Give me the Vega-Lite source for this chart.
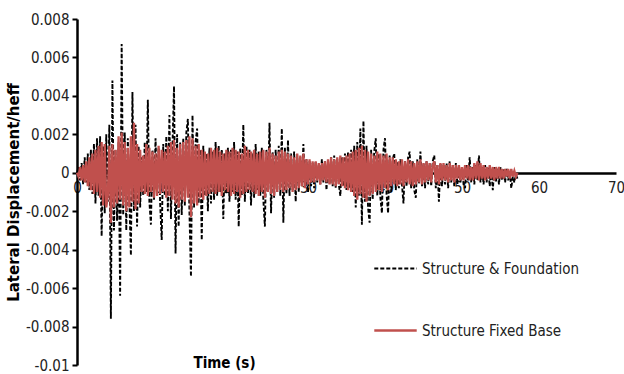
{
"$schema":"https://vega.github.io/schema/vega-lite/v6.json",
"width":539,"height":346,
"autosize":"none",
"padding":{"left":77,"top":19,"right":8,"bottom":9},
"background":"white",
"config":{"view":{"stroke":null},"font":"DejaVu Sans Condensed, Liberation Sans Narrow, sans-serif"},
"data":{"values":[
{"t":0,"a":0,"b":0},{"t":0.2,"a":0.0003,"b":-0.0002},{"t":0.4,"a":-0.0004,"b":0.0003},{"t":0.6,"a":0.0005,"b":-0.0004},{"t":0.8,"a":-0.0006,"b":0.0004},
{"t":1.0,"a":0.0008,"b":-0.0005},{"t":1.2,"a":-0.0005,"b":0.0006},{"t":1.4,"a":0.0010,"b":-0.0007},{"t":1.6,"a":-0.0009,"b":0.0008},{"t":1.8,"a":0.0012,"b":-0.0009},
{"t":2.0,"a":-0.0011,"b":0.0010},{"t":2.2,"a":0.0015,"b":-0.0011},{"t":2.4,"a":-0.0016,"b":0.0012},{"t":2.6,"a":0.0018,"b":-0.0010},{"t":2.8,"a":-0.0012,"b":0.0014},
{"t":3.0,"a":0.0019,"b":-0.0013},{"t":3.2,"a":-0.0033,"b":0.0016},{"t":3.4,"a":0.0014,"b":-0.0017},{"t":3.6,"a":-0.0021,"b":0.0015},{"t":3.8,"a":0.0020,"b":-0.0018},
{"t":4.0,"a":-0.0015,"b":-0.0012},{"t":4.2,"a":0.0025,"b":0.0014},{"t":4.4,"a":-0.0076,"b":-0.0026},{"t":4.6,"a":0.0048,"b":0.0015},{"t":4.8,"a":-0.0030,"b":-0.0018},
{"t":5.0,"a":0.0012,"b":0.0012},{"t":5.2,"a":-0.0025,"b":-0.0016},{"t":5.4,"a":0.0016,"b":0.0019},{"t":5.6,"a":-0.0064,"b":-0.0014},{"t":5.8,"a":0.0067,"b":0.0021},
{"t":6.0,"a":-0.0022,"b":-0.0017},{"t":6.2,"a":0.0021,"b":0.0016},{"t":6.4,"a":-0.0030,"b":-0.0020},{"t":6.6,"a":0.0018,"b":0.0013},{"t":6.8,"a":-0.0015,"b":-0.0018},
{"t":7.0,"a":-0.0043,"b":0.0019},{"t":7.2,"a":0.0042,"b":-0.0015},{"t":7.4,"a":-0.0020,"b":0.0026},{"t":7.6,"a":0.0025,"b":-0.0019},{"t":7.8,"a":-0.0028,"b":0.0015},
{"t":8.0,"a":0.0014,"b":-0.0016},{"t":8.2,"a":-0.0018,"b":0.0012},{"t":8.4,"a":0.0008,"b":-0.0010},{"t":8.6,"a":-0.0012,"b":0.0009},{"t":8.8,"a":0.0016,"b":-0.0011},
{"t":9.0,"a":-0.0010,"b":0.0015},{"t":9.2,"a":0.0038,"b":-0.0012},{"t":9.4,"a":-0.0015,"b":0.0013},{"t":9.6,"a":-0.0027,"b":-0.0010},{"t":9.8,"a":0.0012,"b":0.0011},
{"t":10.0,"a":-0.0014,"b":-0.0013},{"t":10.2,"a":0.0018,"b":0.0010},{"t":10.4,"a":-0.0010,"b":-0.0012},{"t":10.6,"a":0.0013,"b":0.0014},{"t":10.8,"a":-0.0016,"b":-0.0011},
{"t":11.0,"a":-0.0035,"b":0.0012},{"t":11.2,"a":0.0015,"b":-0.0010},{"t":11.4,"a":-0.0012,"b":0.0011},{"t":11.6,"a":0.0019,"b":-0.0013},{"t":11.8,"a":-0.0020,"b":0.0014},
{"t":12.0,"a":0.0030,"b":-0.0012},{"t":12.2,"a":-0.0024,"b":0.0016},{"t":12.4,"a":0.0014,"b":-0.0014},{"t":12.6,"a":0.0045,"b":0.0017},{"t":12.8,"a":-0.0042,"b":-0.0016},
{"t":13.0,"a":0.0020,"b":0.0013},{"t":13.2,"a":-0.0028,"b":-0.0018},{"t":13.4,"a":0.0016,"b":0.0015},{"t":13.6,"a":-0.0022,"b":-0.0014},{"t":13.8,"a":0.0018,"b":0.0016},
{"t":14.0,"a":-0.0017,"b":-0.0015},{"t":14.2,"a":0.0021,"b":0.0017},{"t":14.4,"a":0.0028,"b":-0.0013},{"t":14.6,"a":-0.0020,"b":0.0019},{"t":14.8,"a":-0.0054,"b":-0.0023},
{"t":15.0,"a":0.0030,"b":0.0018},{"t":15.2,"a":-0.0018,"b":-0.0016},{"t":15.4,"a":0.0016,"b":0.0014},{"t":15.6,"a":0.0023,"b":-0.0017},{"t":15.8,"a":-0.0016,"b":0.0015},
{"t":16.0,"a":0.0012,"b":-0.0013},{"t":16.2,"a":-0.0035,"b":0.0012},{"t":16.4,"a":0.0014,"b":-0.0014},{"t":16.6,"a":-0.0012,"b":0.0011},{"t":16.8,"a":0.0010,"b":-0.0012},
{"t":17.0,"a":-0.0020,"b":0.0010},{"t":17.2,"a":0.0013,"b":-0.0011},{"t":17.4,"a":-0.0016,"b":0.0013},{"t":17.6,"a":0.0011,"b":-0.0010},{"t":17.8,"a":-0.0014,"b":0.0012},
{"t":18.0,"a":0.0016,"b":-0.0011},{"t":18.2,"a":-0.0012,"b":0.0013},{"t":18.4,"a":0.0014,"b":-0.0010},{"t":18.6,"a":-0.0010,"b":0.0011},{"t":18.8,"a":0.0012,"b":-0.0012},
{"t":19.0,"a":-0.0024,"b":0.0010},{"t":19.2,"a":0.0010,"b":-0.0009},{"t":19.4,"a":-0.0011,"b":0.0012},{"t":19.6,"a":0.0013,"b":-0.0010},{"t":19.8,"a":-0.0015,"b":0.0011},
{"t":20.0,"a":0.0012,"b":-0.0012},{"t":20.2,"a":-0.0010,"b":0.0013},{"t":20.4,"a":0.0016,"b":-0.0011},{"t":20.6,"a":-0.0014,"b":0.0012},{"t":20.8,"a":0.0011,"b":-0.0010},
{"t":21.0,"a":-0.0028,"b":0.0011},{"t":21.2,"a":0.0013,"b":-0.0013},{"t":21.4,"a":-0.0012,"b":0.0010},{"t":21.6,"a":0.0025,"b":-0.0011},{"t":21.8,"a":-0.0015,"b":0.0014},
{"t":22.0,"a":0.0014,"b":-0.0010},{"t":22.2,"a":-0.0011,"b":0.0012},{"t":22.4,"a":0.0012,"b":-0.0009},{"t":22.6,"a":-0.0017,"b":0.0011},{"t":22.8,"a":0.0010,"b":-0.0010},
{"t":23.0,"a":-0.0013,"b":0.0012},{"t":23.2,"a":0.0015,"b":-0.0011},{"t":23.4,"a":-0.0009,"b":0.0010},{"t":23.6,"a":0.0011,"b":-0.0012},{"t":23.8,"a":-0.0012,"b":0.0011},
{"t":24.0,"a":0.0013,"b":-0.0010},{"t":24.2,"a":-0.0014,"b":0.0012},{"t":24.4,"a":-0.0028,"b":-0.0013},{"t":24.6,"a":0.0012,"b":0.0011},{"t":24.8,"a":-0.0010,"b":-0.0010},
{"t":25.0,"a":0.0026,"b":0.0013},{"t":25.2,"a":-0.0021,"b":-0.0011},{"t":25.4,"a":0.0011,"b":0.0010},{"t":25.6,"a":-0.0013,"b":-0.0012},{"t":25.8,"a":0.0012,"b":0.0009},
{"t":26.0,"a":-0.0010,"b":-0.0010},{"t":26.2,"a":0.0014,"b":0.0011},{"t":26.4,"a":-0.0012,"b":-0.0009},{"t":26.6,"a":0.0023,"b":0.0012},{"t":26.8,"a":-0.0026,"b":-0.0010},
{"t":27.0,"a":0.0013,"b":0.0011},{"t":27.2,"a":-0.0011,"b":-0.0009},{"t":27.4,"a":0.0017,"b":0.0010},{"t":27.6,"a":-0.0012,"b":-0.0008},{"t":27.8,"a":0.0010,"b":0.0009},
{"t":28.0,"a":-0.0009,"b":-0.0010},{"t":28.2,"a":0.0011,"b":0.0008},{"t":28.4,"a":-0.0015,"b":-0.0009},{"t":28.6,"a":0.0009,"b":0.0010},{"t":28.8,"a":-0.0010,"b":-0.0008},
{"t":29.0,"a":0.0008,"b":0.0009},{"t":29.2,"a":-0.0007,"b":-0.0007},{"t":29.4,"a":0.0015,"b":0.0010},{"t":29.6,"a":-0.0008,"b":-0.0008},{"t":29.8,"a":0.0007,"b":0.0007},
{"t":30.0,"a":-0.0010,"b":-0.0006},{"t":30.2,"a":0.0006,"b":0.0007},{"t":30.4,"a":-0.0007,"b":-0.0005},{"t":30.6,"a":0.0005,"b":0.0006},{"t":30.8,"a":-0.0008,"b":-0.0005},
{"t":31.0,"a":0.0006,"b":0.0006},{"t":31.2,"a":-0.0005,"b":-0.0004},{"t":31.4,"a":0.0004,"b":0.0005},{"t":31.6,"a":-0.0006,"b":-0.0006},{"t":31.8,"a":0.0007,"b":0.0005},
{"t":32.0,"a":-0.0005,"b":-0.0004},{"t":32.2,"a":0.0006,"b":0.0006},{"t":32.4,"a":-0.0009,"b":-0.0005},{"t":32.6,"a":0.0005,"b":0.0007},{"t":32.8,"a":-0.0006,"b":-0.0006},
{"t":33.0,"a":0.0008,"b":0.0008},{"t":33.2,"a":-0.0007,"b":-0.0006},{"t":33.4,"a":0.0009,"b":0.0007},{"t":33.6,"a":-0.0008,"b":-0.0007},{"t":33.8,"a":0.0007,"b":0.0008},
{"t":34.0,"a":-0.0006,"b":-0.0006},{"t":34.2,"a":-0.0012,"b":0.0009},{"t":34.4,"a":0.0008,"b":-0.0007},{"t":34.6,"a":-0.0007,"b":0.0008},{"t":34.8,"a":0.0010,"b":-0.0008},
{"t":35.0,"a":-0.0009,"b":0.0009},{"t":35.2,"a":0.0011,"b":-0.0009},{"t":35.4,"a":-0.0008,"b":0.0010},{"t":35.6,"a":0.0012,"b":-0.0010},{"t":35.8,"a":-0.0010,"b":0.0011},
{"t":36.0,"a":0.0014,"b":-0.0012},{"t":36.2,"a":-0.0018,"b":0.0012},{"t":36.4,"a":0.0016,"b":-0.0014},{"t":36.6,"a":-0.0012,"b":0.0013},{"t":36.8,"a":0.0023,"b":-0.0011},
{"t":37.0,"a":-0.0027,"b":0.0014},{"t":37.2,"a":0.0027,"b":-0.0013},{"t":37.4,"a":-0.0015,"b":0.0012},{"t":37.6,"a":0.0014,"b":-0.0015},{"t":37.8,"a":-0.0018,"b":0.0011},
{"t":38.0,"a":-0.0026,"b":-0.0012},{"t":38.2,"a":0.0012,"b":0.0010},{"t":38.4,"a":-0.0014,"b":-0.0011},{"t":38.6,"a":0.0011,"b":0.0009},{"t":38.8,"a":0.0018,"b":-0.0010},
{"t":39.0,"a":-0.0012,"b":0.0011},{"t":39.2,"a":0.0010,"b":-0.0009},{"t":39.4,"a":-0.0013,"b":0.0010},{"t":39.6,"a":-0.0021,"b":-0.0010},{"t":39.8,"a":0.0012,"b":0.0009},
{"t":40.0,"a":0.0018,"b":-0.0008},{"t":40.2,"a":-0.0011,"b":0.0010},{"t":40.4,"a":-0.0021,"b":-0.0009},{"t":40.6,"a":0.0009,"b":0.0008},{"t":40.8,"a":-0.0010,"b":-0.0007},
{"t":41.0,"a":0.0007,"b":0.0008},{"t":41.2,"a":0.0010,"b":-0.0006},{"t":41.4,"a":-0.0009,"b":0.0007},{"t":41.6,"a":0.0006,"b":-0.0007},{"t":41.8,"a":-0.0008,"b":0.0006},
{"t":42.0,"a":0.0007,"b":-0.0006},{"t":42.2,"a":-0.0006,"b":0.0007},{"t":42.4,"a":-0.0016,"b":-0.0007},{"t":42.6,"a":0.0006,"b":0.0006},{"t":42.8,"a":-0.0007,"b":-0.0005},
{"t":43.0,"a":0.0008,"b":0.0007},{"t":43.2,"a":0.0011,"b":-0.0006},{"t":43.4,"a":-0.0008,"b":0.0006},{"t":43.6,"a":0.0006,"b":-0.0007},{"t":43.8,"a":-0.0009,"b":0.0005},
{"t":44.0,"a":-0.0013,"b":-0.0006},{"t":44.2,"a":0.0007,"b":0.0006},{"t":44.4,"a":-0.0006,"b":-0.0005},{"t":44.6,"a":0.0011,"b":0.0007},{"t":44.8,"a":-0.0007,"b":-0.0006},
{"t":45.0,"a":0.0005,"b":0.0005},{"t":45.2,"a":-0.0008,"b":-0.0005},{"t":45.4,"a":0.0006,"b":0.0006},{"t":45.6,"a":-0.0006,"b":-0.0004},{"t":45.8,"a":0.0005,"b":0.0005},
{"t":46.0,"a":-0.0007,"b":-0.0005},{"t":46.2,"a":0.0006,"b":0.0004},{"t":46.4,"a":0.0009,"b":0.0006},{"t":46.6,"a":-0.0008,"b":-0.0005},{"t":46.8,"a":0.0004,"b":0.0004},
{"t":47.0,"a":-0.0015,"b":-0.0006},{"t":47.2,"a":0.0005,"b":0.0005},{"t":47.4,"a":-0.0007,"b":-0.0004},{"t":47.6,"a":0.0004,"b":0.0005},{"t":47.8,"a":-0.0006,"b":-0.0004},
{"t":48.0,"a":0.0005,"b":0.0004},{"t":48.2,"a":-0.0008,"b":-0.0005},{"t":48.4,"a":0.0006,"b":0.0005},{"t":48.6,"a":-0.0005,"b":-0.0004},{"t":48.8,"a":0.0004,"b":0.0004},
{"t":49.0,"a":-0.0007,"b":-0.0005},{"t":49.2,"a":0.0005,"b":0.0004},{"t":49.4,"a":-0.0006,"b":-0.0003},{"t":49.6,"a":0.0004,"b":0.0004},{"t":49.8,"a":-0.0005,"b":-0.0004},
{"t":50.0,"a":0.0003,"b":0.0003},{"t":50.2,"a":-0.0006,"b":-0.0004},{"t":50.4,"a":-0.0008,"b":0.0004},{"t":50.6,"a":0.0004,"b":-0.0003},{"t":50.8,"a":-0.0004,"b":0.0004},
{"t":51.0,"a":0.0008,"b":-0.0004},{"t":51.2,"a":-0.0005,"b":0.0003},{"t":51.4,"a":0.0003,"b":-0.0004},{"t":51.6,"a":-0.0006,"b":0.0005},{"t":51.8,"a":0.0004,"b":-0.0003},
{"t":52.0,"a":-0.0004,"b":0.0006},{"t":52.2,"a":0.0009,"b":-0.0004},{"t":52.4,"a":-0.0005,"b":0.0005},{"t":52.6,"a":0.0003,"b":-0.0003},{"t":52.8,"a":-0.0006,"b":0.0004},
{"t":53.0,"a":0.0004,"b":-0.0004},{"t":53.2,"a":-0.0005,"b":0.0003},{"t":53.4,"a":0.0003,"b":-0.0003},{"t":53.6,"a":-0.0007,"b":0.0004},{"t":53.8,"a":0.0002,"b":-0.0003},
{"t":54.0,"a":-0.0009,"b":0.0003},{"t":54.2,"a":0.0003,"b":-0.0004},{"t":54.4,"a":-0.0005,"b":0.0003},{"t":54.6,"a":0.0002,"b":-0.0003},{"t":54.8,"a":-0.0006,"b":0.0003},
{"t":55.0,"a":0.0003,"b":-0.0003},{"t":55.2,"a":-0.0004,"b":0.0002},{"t":55.4,"a":0.0002,"b":-0.0003},{"t":55.6,"a":-0.0005,"b":0.0002},{"t":55.8,"a":0.0002,"b":-0.0002},
{"t":56.0,"a":-0.0004,"b":0.0002},{"t":56.2,"a":0.0001,"b":-0.0003},{"t":56.4,"a":-0.0008,"b":0.0002},{"t":56.6,"a":-0.0002,"b":-0.0002},{"t":56.8,"a":-0.0005,"b":0.0001},
{"t":57.0,"a":-0.0001,"b":-0.0002},{"t":57.2,"a":-0.0003,"b":0.0000}
]},
"transform":[{"fold":["a","b"],"as":["s","v"]}],
"mark":{"type":"line","clip":false},
"encoding":{
"x":{"field":"t","type":"quantitative","scale":{"domain":[0,70],"nice":false,"zero":false},
 "axis":{"orient":"bottom","offset":-192,"values":[0,10,20,30,40,50,60,70],"format":"d","ticks":false,"grid":false,
  "domainColor":"#000000","domainWidth":2.5,"labelPadding":7,"labelFontSize":15,"labelColor":"#222222","labelFlush":false,
  "title":"Time (s)","titleX":147,"titleY":189,"titleBaseline":"middle","titleFontSize":15,"titleFontWeight":"bold","titleColor":"#000000"}},
"y":{"field":"v","type":"quantitative","scale":{"domain":[-0.01,0.008],"nice":false,"zero":false},
 "axis":{"values":[-0.01,-0.008,-0.006,-0.004,-0.002,0,0.002,0.004,0.006,0.008],
  "labelExpr":"replace(format(datum.value,'~g'),'−','-')","grid":false,
  "domainColor":"#000000","domainWidth":2.5,"tickColor":"#000000","tickWidth":2,"tickSize":5,"labelPadding":3,
  "labelFontSize":15,"labelColor":"#222222",
  "title":"Lateral Displacement/heff","titleFont":"DejaVu Sans","titleFontWeight":"bold","titleFontSize":15,"titleColor":"#000000","titlePadding":4}},
"color":{"field":"s","type":"nominal","scale":{"domain":["a","b"],"range":["#000000","#C0504D"]},
 "legend":{"orient":"none","legendX":296,"legendY":227,"title":null,"symbolType":"stroke","symbolSize":1800,"symbolStrokeWidth":2.5,
  "labelFontSize":15,"labelColor":"#222222","rowPadding":31,"labelOffset":4,
  "labelExpr":"datum.value == 'a' ? 'Structure & Foundation' : 'Structure Fixed Base'"}},
"strokeDash":{"field":"s","type":"nominal","scale":{"domain":["a","b"],"range":[[4,2],[1,0]]},
 "legend":{"orient":"none","legendX":296,"legendY":227,"title":null,"symbolType":"stroke","symbolSize":1800,"symbolStrokeWidth":2.5,
  "labelFontSize":15,"labelColor":"#222222","rowPadding":31,"labelOffset":4,
  "labelExpr":"datum.value == 'a' ? 'Structure & Foundation' : 'Structure Fixed Base'"}},
"strokeWidth":{"field":"s","type":"nominal","scale":{"domain":["a","b"],"range":[1.9,2.3]},"legend":null}
}
}
